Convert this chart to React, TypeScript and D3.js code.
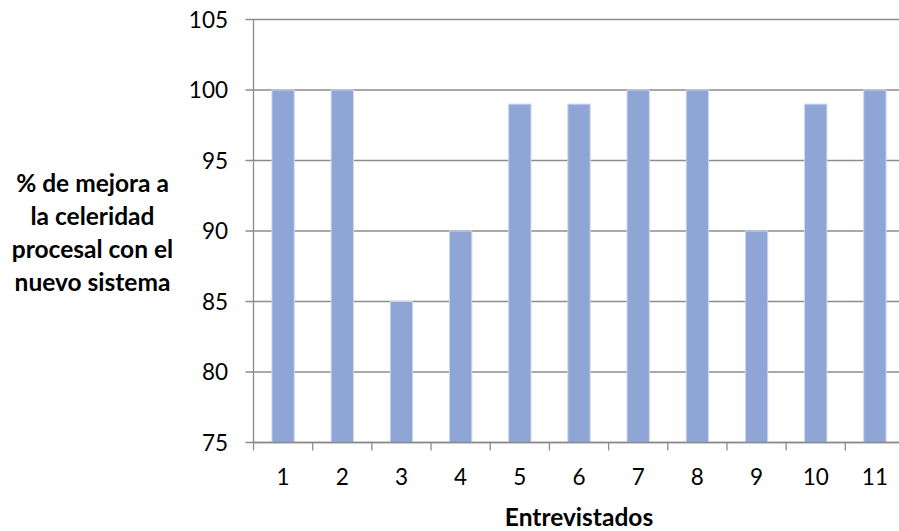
import * as d3 from 'd3';

const categories = ['1', '2', '3', '4', '5', '6', '7', '8', '9', '10', '11'];
const values = [100, 100, 85, 90, 99, 99, 100, 100, 90, 99, 100];
const yTicks = [75, 80, 85, 90, 95, 100, 105];
const yTitleLines = ['% de mejora a', 'la celeridad', 'procesal con el', 'nuevo sistema'];
const xTitle = 'Entrevistados';

const W = 899;
const H = 531;
const margin = { top: 19.5, right: -5.5, bottom: 88.5, left: 253.5 };
const font = 'Lato, "Open Sans", sans-serif';
const gridColor = '#8c8c8c';
const barColor = '#8FA5D6';

export default function App() {
  const innerW = W - margin.left - margin.right;
  const innerH = H - margin.top - margin.bottom;

  // bars take about 38% of each category slot
  const x = d3.scaleBand<string>().domain(categories).range([0, innerW]).paddingInner(0.623).paddingOuter(0.3115);
  const xEdge = d3.scaleLinear().domain([0, categories.length]).range([0, innerW]);
  const y = d3.scaleLinear().domain([75, 105]).range([innerH, 0]);

  return (
    <svg
      width={W}
      height={H}
      style={{ position: 'absolute', left: 0, top: 0, background: '#fff' }}
    >
      <g transform={`translate(${margin.left},${margin.top})`}>
        {yTicks.map((t) => (
          <g key={t}>
            <line x1={-8} x2={innerW} y1={y(t)} y2={y(t)} stroke={gridColor} strokeWidth={1.3} />
            <text x={-25.5} y={y(t) + 8} textAnchor="end" fontFamily={font} fontSize={22.5} fill="#000">
              {t}
            </text>
          </g>
        ))}

        {categories.map((c, i) => (
          <rect
            key={c}
            x={x(c)}
            y={y(values[i])}
            width={x.bandwidth()}
            height={innerH - y(values[i])}
            fill={barColor}
            stroke="#cdd6ee"
            strokeWidth={1}
          />
        ))}

        <line x1={0} x2={0} y1={0} y2={innerH} stroke={gridColor} strokeWidth={1.3} />
        <line x1={0} x2={innerW} y1={innerH} y2={innerH} stroke={gridColor} strokeWidth={1.3} />
        {d3.range(categories.length + 1).map((i) => (
          <line key={i} x1={xEdge(i)} x2={xEdge(i)} y1={innerH} y2={innerH + 8} stroke={gridColor} strokeWidth={1.3} />
        ))}
        {categories.map((c) => (
          <text
            key={c}
            x={(x(c) ?? 0) + x.bandwidth() / 2}
            y={innerH + 42}
            textAnchor="middle"
            fontFamily={font}
            fontSize={22.5}
            fill="#000"
          >
            {c}
          </text>
        ))}

        <text
          x={innerW / 2}
          y={innerH + 83}
          textAnchor="middle"
          fontFamily={font}
          fontWeight="bold"
          fontSize={24.5}
          fill="#000"
        >
          {xTitle}
        </text>
      </g>

      {yTitleLines.map((l, i) => (
        <text
          key={l}
          x={92.5}
          y={192 + i * 33}
          textAnchor="middle"
          fontFamily={font}
          fontWeight="bold"
          fontSize={24.5}
          fill="#000"
        >
          {l}
        </text>
      ))}
    </svg>
  );
}
